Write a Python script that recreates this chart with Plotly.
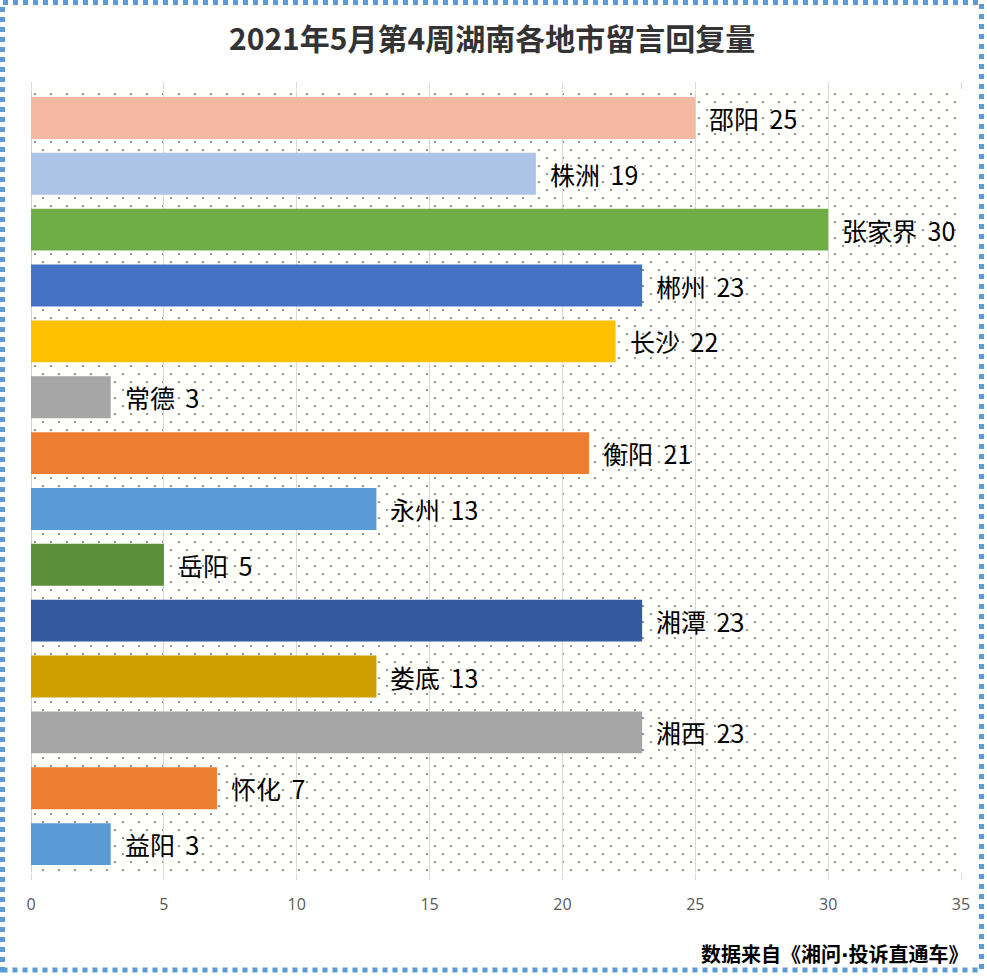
import base64
import plotly.graph_objects as go

# ---- data ----
cities = ["邵阳", "株洲", "张家界", "郴州", "长沙", "常德", "衡阳", "永州",
          "岳阳", "湘潭", "娄底", "湘西", "怀化", "益阳"]
replies = [25, 19, 30, 23, 22, 3, 21, 13, 5, 23, 13, 23, 7, 3]
bar_colors = ["#F4B8A3", "#ADC4E6", "#70AD47", "#4472C4", "#FFC000", "#A5A5A5",
              "#ED7D31", "#5B9BD5", "#5A8F3A", "#335A9E", "#CF9E00", "#A5A5A5",
              "#ED7D31", "#5B9BD5"]
x_ticks = [0, 5, 10, 15, 20, 25, 30, 35]
title_text = "2021年5月第4周湖南各地市留言回复量"
source_text = '数据来自《湘问<span style="font-family:DejaVu Sans">·</span>投诉直通车》'

W, H = 987, 976
ML, MR, MT, MB = 31, 26, 90, 104
PW, PH = W - ML - MR, H - MT - MB

# dotted background texture for the plot area
svg = (
    f'<svg xmlns="http://www.w3.org/2000/svg" width="{PW}" height="{PH}">'
    '<defs><pattern id="p" width="16" height="16" patternUnits="userSpaceOnUse">'
    '<rect x="3" y="3" width="2" height="2" fill="#939393"/>'
    '<rect x="11" y="11" width="2" height="2" fill="#939393"/>'
    '</pattern></defs>'
    f'<rect width="{PW}" height="{PH}" fill="#fffffb"/>'
    f'<rect width="{PW}" height="{PH}" fill="url(#p)"/></svg>'
)
svg_uri = "data:image/svg+xml;base64," + base64.b64encode(svg.encode()).decode()

fig = go.Figure()
fig.add_trace(go.Bar(
    x=replies, y=cities, orientation="h",
    marker=dict(color=bar_colors, line=dict(width=0)),
    hoverinfo="skip",
))


def px_x(p):
    return (p - ML) / PW


def px_y(p):
    return (MT + PH - p) / PH


annotations = []
for c, v in zip(cities, replies):
    annotations.append(dict(
        x=v, y=c, xref="x", yref="y", text=f"{c}\u2009 {v}", showarrow=False,
        xanchor="left", yanchor="middle", xshift=12,
        font=dict(family="Noto Sans CJK SC", size=25, color="#000000"),
    ))
annotations.append(dict(
    x=px_x(492), y=px_y(37), xref="paper", yref="paper",
    text=f"<b>{title_text}</b>", showarrow=False, xanchor="center", yanchor="middle",
    font=dict(family="Noto Sans CJK SC", size=30, color="#333333"),
))
annotations.append(dict(
    x=px_x(971), y=px_y(954), xref="paper", yref="paper",
    text=f"<b>{source_text}</b>", showarrow=False, xanchor="right", yanchor="middle",
    font=dict(family="Noto Sans CJK SC", size=20, color="#000000"),
))

fig.update_layout(
    width=W, height=H,
    margin=dict(l=ML, r=MR, t=MT, b=MB),
    paper_bgcolor="#ffffff",
    plot_bgcolor="rgba(0,0,0,0)",
    showlegend=False,
    bargap=0.25,
    annotations=annotations,
    images=[dict(source=svg_uri, xref="paper", yref="paper", x=0, y=1,
                 sizex=1, sizey=1, xanchor="left", yanchor="top",
                 sizing="stretch", layer="below")],
    shapes=[dict(type="rect", xref="paper", yref="paper",
                 x0=px_x(2.5), x1=px_x(981.5), y0=px_y(970), y1=px_y(2.5),
                 line=dict(color="#5B9BD5", width=5, dash="dot"),
                 fillcolor="rgba(0,0,0,0)")],
    xaxis=dict(
        range=[0, 35], tickvals=x_ticks, ticktext=[str(t) for t in x_ticks],
        showgrid=True, gridcolor="#D9D9D9", gridwidth=1,
        zeroline=True, zerolinecolor="#D0D0D0", zerolinewidth=1,
        ticks="outside", ticklen=7, tickcolor="#D9D9D9", mirror="ticks",
        showline=False, ticklabelstandoff=11,
        tickfont=dict(family="Open Sans", size=16, color="#595959"),
        fixedrange=True,
    ),
    yaxis=dict(
        autorange="reversed", showticklabels=False, ticks="",
        showgrid=False, zeroline=False, showline=False, fixedrange=True,
    ),
)

fig.write_html("out.html")
